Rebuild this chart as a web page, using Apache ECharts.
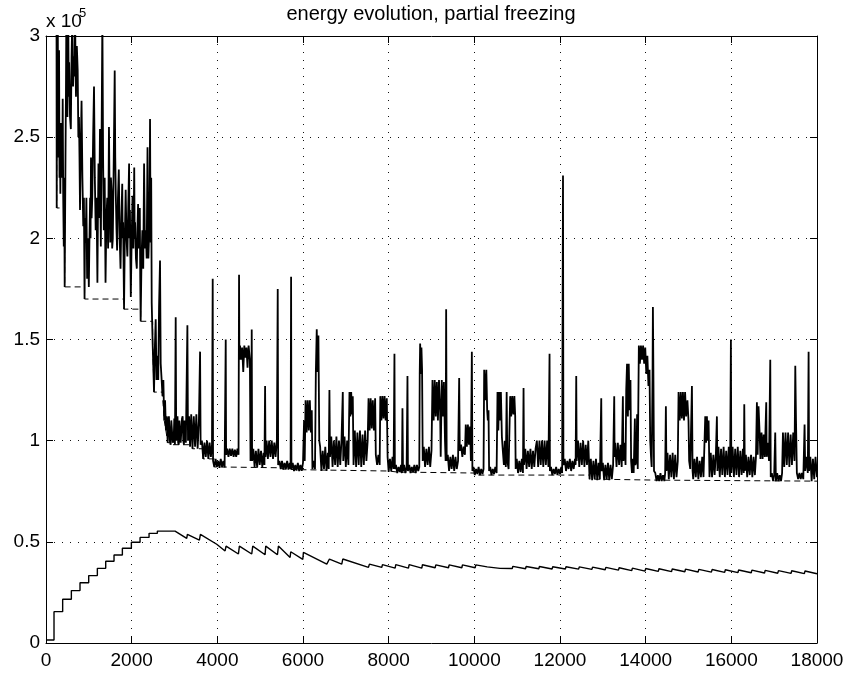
<!DOCTYPE html>
<html>
<head>
<meta charset="utf-8">
<title>energy evolution, partial freezing</title>
<script src="https://cdn.jsdelivr.net/npm/echarts@6/dist/echarts.min.js"></script>
<style>
  html, body { margin: 0; padding: 0; background: #fff; }
  #chart { width: 848px; height: 673px; }
</style>
</head>
<body>
<div id="chart"></div>
<script>
// Energy per iteration, in units of 1e5 (x = iteration, y = energy / 1e5)
const energyTrace = [
  [0,3.2],[245,3.2],[250,2.15],[258,2.9],[266,2.45],[275,3.1],[285,2.4],[295,2.6],[305,2.93],[315,2.3],
  [325,2.5],[335,2.22],[345,2.57],[355,2.35],[365,2.5],[378,2.3],[390,2.69],[402,2.2],[415,1.96],[425,2.3],
  [436,1.76],[446,2.1],[455,2.4],[465,2.7],[475,3.1],[487,2.65],[500,2.6],[510,2.9],[520,3.1],[530,2.7],
  [540,2.87],[560,2.6],[580,2.54],[597,2.9],[615,3.1],[632,2.75],[650,2.9],[665,2.8],[680,3.1],[690,2.85],
  [700,2.70],[720,2.95],[740,2.83],[755,2.5],[770,2.6],[782,2.4],[794,2.14],[812,2.45],[830,2.68],[850,2.3],
  [870,2.06],[885,2.2],[900,1.70],[913,2.1],[926,1.98],[943,2.2],[960,1.8],[980,2.0],[1000,1.76],[1015,2.0],
  [1030,2.2],[1040,2.0],[1050,2.4],[1065,2.1],[1080,2.2],[1100,2.5],[1121,2.75],[1140,2.3],[1160,2.04],[1180,2.2],
  [1200,1.78],[1212,2.1],[1225,2.37],[1242,2.1],[1260,2.54],[1270,2.2],[1280,1.96],[1298,2.5],[1316,3.1],[1333,2.4],
  [1350,2.04],[1370,2.3],[1390,1.78],[1410,2.1],[1430,2.2],[1450,1.95],[1470,2.55],[1485,2.2],[1500,1.98],[1515,2.3],
  [1530,2.24],[1545,1.95],[1560,2.0],[1582,2.4],[1604,2.83],[1617,2.4],[1630,2.21],[1645,2.05],[1660,1.94],[1680,2.2],
  [1700,2.34],[1720,2.0],[1740,1.85],[1760,2.1],[1780,2.27],[1790,2.0],[1800,2.08],[1810,1.9],[1822,1.65],[1840,2.0],
  [1860,2.24],[1880,2.0],[1900,1.91],[1920,2.15],[1940,2.37],[1950,2.0],[1960,2.14],[1970,1.9],[1980,1.71],[2000,2.0],
  [2020,2.21],[2040,1.95],[2060,2.35],[2070,2.0],[2080,2.08],[2100,1.9],[2120,1.85],[2135,2.05],[2150,2.17],[2170,1.95],
  [2190,2.15],[2200,1.8],[2210,1.59],[2230,1.9],[2250,2.04],[2270,1.85],[2290,2.37],[2310,1.95],[2330,2.04],[2350,1.9],
  [2370,2.45],[2390,1.9],[2410,2.04],[2420,2.2],[2429,2.59],[2437,2.2],[2445,1.98],[2456,2.3],[2468,1.68],[2490,1.48],
  [2522,1.24],[2540,1.45],[2561,1.6],[2580,1.3],[2600,1.42],[2620,1.3],[2639,1.66],[2662,1.89],[2678,1.38],[2700,1.3],
  [2720,1.22],[2740,1.3],[2760,1.10],[2780,1.2],[2800,1.05],[2820,1.12],[2840,0.99],[2855,1.1],[2870,1.12],[2890,1.0],
  [2910,0.98],[2925,1.1],[2940,1.1],[2960,0.99],[2980,1.0],[2995,1.11],[3010,0.98],[3028,1.61],[3040,1.0],[3055,1.1],
  [3070,1.12],[3085,0.99],[3100,0.98],[3115,1.1],[3130,1.1],[3145,0.99],[3160,0.99],[3175,1.11],[3190,1.12],[3205,1.0],
  [3220,0.98],[3235,1.1],[3250,1.08],[3265,0.99],[3280,0.99],[3301,1.57],[3315,1.0],[3340,1.12],[3363,0.97],[3390,1.13],
  [3420,0.96],[3450,1.12],[3480,0.97],[3510,1.13],[3540,0.96],[3570,1.1],[3597,1.44],[3610,0.98],[3640,1.0],[3670,0.91],
  [3700,0.99],[3730,0.92],[3760,1.0],[3790,0.91],[3820,0.99],[3850,0.92],[3875,0.98],[3892,1.80],[3900,0.9],[3930,0.87],
  [3960,0.91],[3990,0.87],[4020,0.9],[4050,0.866],[4080,0.91],[4110,0.87],[4140,0.9],[4170,0.868],[4196,1.50],[4205,0.93],
  [4230,0.96],[4260,0.92],[4290,0.96],[4320,0.925],[4350,0.96],[4380,0.92],[4410,0.955],[4440,0.92],[4470,0.96],[4495,0.93],
  [4507,1.82],[4515,1.4],[4530,1.47],[4555,1.40],[4580,1.46],[4605,1.34],[4630,1.47],[4655,1.41],[4680,1.46],[4705,1.36],
  [4730,1.47],[4760,1.40],[4775,0.9],[4790,0.93],[4803,1.55],[4812,0.9],[4840,0.96],[4870,0.87],[4900,0.95],[4930,0.866],
  [4960,0.96],[4990,0.88],[5020,0.95],[5050,0.87],[5080,0.94],[5100,0.88],[5115,1.27],[5125,0.92],[5150,1.0],[5180,0.91],
  [5210,1.0],[5240,0.92],[5270,1.0],[5300,0.91],[5330,0.99],[5360,0.92],[5390,1.0],[5410,1.75],[5420,0.88],[5450,0.9],
  [5480,0.86],[5510,0.9],[5540,0.857],[5570,0.89],[5600,0.86],[5630,0.9],[5660,0.857],[5690,0.89],[5710,0.86],[5722,1.81],
  [5730,0.86],[5760,0.89],[5790,0.85],[5820,0.88],[5850,0.852],[5880,0.89],[5910,0.85],[5940,0.88],[5970,0.851],[6000,0.89],
  [6025,1.1],[6040,0.9],[6060,1.2],[6085,1.04],[6110,1.2],[6135,1.05],[6160,1.2],[6185,1.04],[6205,1.15],[6220,0.86],
  [6250,0.9],[6280,0.86],[6300,1.34],[6321,1.55],[6340,1.34],[6360,1.52],[6380,1.0],[6400,0.97],[6430,0.85],[6460,0.95],
  [6490,0.86],[6520,0.97],[6550,0.85],[6580,0.94],[6600,0.86],[6617,1.25],[6630,0.92],[6660,1.02],[6690,0.87],[6720,1.0],
  [6750,0.88],[6780,1.02],[6810,0.87],[6840,1.0],[6870,0.88],[6900,1.01],[6929,1.24],[6940,0.9],[6970,1.02],[7000,0.87],
  [7030,1.0],[7060,0.88],[7085,1.24],[7105,1.12],[7125,1.24],[7145,1.13],[7162,1.22],[7180,0.88],[7210,1.05],[7240,0.87],
  [7270,1.04],[7300,0.88],[7330,1.05],[7360,0.87],[7390,1.03],[7420,0.88],[7450,1.05],[7480,0.9],[7510,1.0],[7530,1.21],
  [7555,1.05],[7580,1.21],[7605,1.06],[7630,1.2],[7655,1.05],[7684,1.21],[7700,0.93],[7730,0.88],[7760,0.93],[7790,0.88],
  [7805,1.22],[7830,1.1],[7855,1.22],[7880,1.11],[7905,1.22],[7930,1.1],[7956,1.21],[7975,0.92],[8000,0.845],[8030,0.91],
  [8060,0.85],[8090,0.92],[8115,0.86],[8135,1.43],[8145,0.86],[8170,0.88],[8200,0.84],[8230,0.87],[8260,0.845],[8290,0.88],
  [8310,0.84],[8322,1.16],[8335,0.85],[8360,0.88],[8390,0.84],[8420,0.87],[8439,1.32],[8450,0.85],[8480,0.88],[8510,0.84],
  [8540,0.87],[8570,0.845],[8600,0.88],[8630,0.84],[8660,0.88],[8690,0.85],[8715,0.87],[8725,1.33],[8735,1.48],[8750,1.33],
  [8765,1.46],[8780,1.35],[8795,0.9],[8820,0.97],[8850,0.87],[8880,0.96],[8910,0.88],[8940,0.97],[8970,0.87],[9000,0.95],
  [9023,1.30],[9050,1.1],[9075,1.30],[9100,1.12],[9125,1.29],[9150,1.1],[9175,1.30],[9202,1.14],[9215,0.92],[9240,1.30],
  [9265,1.12],[9290,1.29],[9315,1.0],[9330,0.9],[9342,1.65],[9355,0.9],[9380,0.93],[9410,0.85],[9440,0.92],[9470,0.86],
  [9500,0.93],[9530,0.85],[9560,0.92],[9590,0.86],[9620,0.9],[9646,1.31],[9660,0.95],[9690,0.98],[9720,0.92],[9750,0.97],
  [9780,0.93],[9800,1.08],[9825,0.97],[9850,1.08],[9875,0.98],[9900,1.07],[9920,0.9],[9942,1.44],[9955,0.85],[9980,0.87],
  [10010,0.83],[10040,0.86],[10070,0.835],[10100,0.87],[10130,0.83],[10160,0.86],[10190,0.835],[10215,0.86],[10230,1.35],[10255,1.20],
  [10280,1.35],[10300,1.15],[10315,1.10],[10331,1.15],[10345,0.85],[10370,0.87],[10400,0.83],[10430,0.86],[10460,0.835],[10490,0.87],
  [10520,0.84],[10541,1.24],[10560,1.05],[10580,1.24],[10600,1.1],[10620,1.24],[10643,1.02],[10665,0.95],[10690,0.88],[10710,1.0],
  [10735,0.87],[10755,1.24],[10770,0.9],[10800,0.86],[10837,1.22],[10860,1.12],[10885,1.22],[10910,1.13],[10935,1.22],[10954,1.12],
  [10965,0.86],[10990,0.91],[11020,0.84],[11050,0.9],[11080,0.845],[11110,0.91],[11135,0.84],[11149,1.26],[11160,0.88],[11190,0.96],
  [11220,0.86],[11250,0.95],[11280,0.87],[11310,0.96],[11340,0.86],[11370,0.95],[11400,0.87],[11430,0.96],[11460,1.0],[11490,0.87],
  [11520,1.0],[11550,0.88],[11580,1.0],[11610,0.87],[11640,1.0],[11670,0.88],[11700,1.0],[11730,0.87],[11756,1.43],[11765,0.85],
  [11790,0.87],[11820,0.83],[11850,0.86],[11880,0.835],[11910,0.87],[11940,0.83],[11970,0.86],[12000,0.835],[12030,0.87],[12050,0.84],
  [12070,2.31],[12080,0.88],[12110,0.91],[12140,0.85],[12170,0.9],[12200,0.86],[12230,0.91],[12260,0.85],[12290,0.9],[12320,0.86],
  [12350,0.91],[12365,0.88],[12379,1.32],[12390,0.9],[12420,1.0],[12450,0.87],[12480,0.99],[12510,0.88],[12540,1.0],[12570,0.87],
  [12600,0.98],[12630,0.88],[12660,1.0],[12690,0.81],[12720,0.91],[12750,0.805],[12780,0.9],[12810,0.81],[12840,0.91],[12870,0.805],
  [12900,0.89],[12930,0.81],[12963,1.21],[12975,0.85],[13000,0.89],[13030,0.805],[13060,0.88],[13090,0.81],[13120,0.89],[13150,0.805],
  [13180,0.88],[13210,0.81],[13240,0.88],[13266,1.22],[13275,0.92],[13290,0.99],[13320,0.87],[13350,0.99],[13380,0.88],[13410,0.98],
  [13440,0.87],[13468,1.22],[13480,0.9],[13510,0.99],[13530,0.88],[13546,1.25],[13565,1.38],[13585,1.12],[13605,1.38],[13625,1.15],
  [13645,1.3],[13660,0.9],[13680,0.84],[13700,0.91],[13720,0.84],[13748,1.11],[13760,0.88],[13785,0.9],[13800,1.13],[13815,0.86],
  [13841,1.47],[13865,1.38],[13890,1.47],[13915,1.40],[13940,1.47],[13965,1.38],[13990,1.46],[14015,1.33],[14040,1.42],[14065,1.27],
  [14090,1.35],[14106,1.0],[14125,0.92],[14140,0.87],[14160,1.3],[14169,1.66],[14180,1.35],[14195,0.85],[14225,0.84],[14255,0.80],
  [14285,0.83],[14315,0.80],[14345,0.84],[14375,0.80],[14405,0.83],[14435,0.80],[14455,0.84],[14472,1.17],[14485,0.85],[14510,0.94],
  [14540,0.81],[14570,0.93],[14600,0.82],[14630,0.94],[14660,0.81],[14690,0.93],[14720,0.82],[14750,0.9],[14768,1.24],[14795,1.1],
  [14820,1.24],[14845,1.11],[14870,1.24],[14895,1.10],[14920,1.24],[14945,1.12],[14975,1.2],[15000,1.1],[15015,0.9],[15040,0.86],
  [15080,1.27],[15095,0.85],[15110,0.81],[15140,0.91],[15170,0.82],[15200,0.92],[15230,0.81],[15260,0.9],[15290,0.82],[15320,0.92],
  [15350,0.82],[15391,1.12],[15410,0.99],[15430,1.12],[15450,1.0],[15469,1.1],[15490,0.82],[15520,0.94],[15550,0.82],[15580,0.93],
  [15610,0.83],[15640,0.94],[15663,1.12],[15675,0.85],[15700,0.97],[15730,0.82],[15760,0.96],[15790,0.83],[15820,0.97],[15850,0.82],
  [15880,0.95],[15910,0.83],[15940,0.97],[15970,0.82],[15990,1.50],[16000,0.84],[16030,0.97],[16060,0.82],[16090,0.96],[16120,0.83],
  [16150,0.97],[16180,0.82],[16210,0.95],[16240,0.83],[16270,0.96],[16290,0.84],[16302,1.18],[16315,0.85],[16340,0.93],[16370,0.82],
  [16400,0.92],[16430,0.83],[16460,0.93],[16490,0.82],[16520,0.92],[16550,0.83],[16575,0.92],[16597,1.19],[16615,0.93],[16635,1.17],
  [16660,1.04],[16680,0.91],[16705,1.04],[16730,0.91],[16755,1.03],[16780,0.92],[16815,1.19],[16825,0.92],[16850,0.99],[16880,0.9],
  [16909,1.40],[16920,0.82],[16945,0.84],[16975,0.80],[17000,0.83],[17025,1.04],[17040,0.80],[17070,0.84],[17100,0.80],[17130,0.83],
  [17160,0.80],[17185,0.84],[17205,1.04],[17235,0.87],[17265,1.04],[17295,0.88],[17325,1.04],[17355,0.87],[17385,1.03],[17415,0.88],
  [17445,1.04],[17475,0.9],[17493,1.37],[17510,1.1],[17530,0.84],[17560,0.81],[17590,0.84],[17620,0.81],[17650,0.84],[17680,0.81],
  [17710,1.08],[17725,0.85],[17760,0.92],[17785,0.84],[17804,1.44],[17815,0.85],[17845,0.92],[17875,0.80],[17905,0.91],[17935,0.81],
  [17965,0.92],[18000,0.82]
];

// Lowest energy found so far (held until the next improvement)
const bestEnergy = [
  [0,3.2],[250,2.15],[436,1.76],[900,1.70],[1822,1.65],[2210,1.59],[2490,1.48],[2522,1.24],[2720,1.22],
  [2760,1.10],[2800,1.05],[2840,0.99],[2910,0.98],[3420,0.96],[3670,0.91],[3930,0.87],[4050,0.866],
  [5480,0.86],[5540,0.857],[5790,0.85],[8000,0.845],[8200,0.84],[10010,0.83],[12690,0.81],[12750,0.805],
  [14255,0.80],[18000,0.80]
];

// Lower trace: stepped rise, then sawtooth decay with periodic jumps
const lowerTrace = [
  [0,0.015],[187,0.015],[187,0.155],[389,0.155],[389,0.216],[592,0.216],[592,0.259],[794,0.259],[794,0.298],
  [997,0.298],[997,0.333],[1199,0.333],[1199,0.369],[1394,0.369],[1394,0.404],[1588,0.404],[1588,0.435],
  [1783,0.435],[1783,0.468],[1993,0.468],[1993,0.498],[2196,0.498],[2196,0.522],[2406,0.522],[2406,0.542],
  [2600,0.542],[2600,0.553],[3013,0.553],
  [3285,0.517],[3301,0.537],[3581,0.509],[3605,0.537],[3986,0.488],[4181,0.455],[4204,0.479],[4492,0.440],
  [4515,0.479],[4803,0.440],[4827,0.479],[5115,0.436],[5130,0.479],[5403,0.436],[5426,0.479],[5699,0.423],
  [5714,0.451],[5995,0.413],[6010,0.448],[6555,0.390],[6617,0.415],[6905,0.390],[6929,0.415],[7528,0.374],
  [7551,0.390],[7840,0.374],[7855,0.387],[8151,0.370],[8166,0.387],[8462,0.370],[8478,0.387],[8774,0.370],
  [8789,0.387],[9085,0.372],[9101,0.386],[9397,0.372],[9412,0.386],[9708,0.372],[9723,0.386],[10019,0.372],
  [10034,0.386],[10300,0.376],[10600,0.369],
  [10885,0.368],[10900,0.379],[11195,0.367],[11210,0.378],[11505,0.367],[11520,0.378],[11815,0.366],[11830,0.377],
  [12125,0.366],[12140,0.377],[12435,0.365],[12450,0.376],[12745,0.364],[12760,0.375],[13055,0.362],[13070,0.374],
  [13365,0.360],[13380,0.372],[13675,0.358],[13690,0.370],[13985,0.355],[14000,0.368],[14295,0.354],[14310,0.367],
  [14605,0.353],[14620,0.366],[14915,0.352],[14930,0.365],[15225,0.351],[15240,0.364],[15535,0.350],[15550,0.363],
  [15845,0.349],[15860,0.362],[16155,0.348],[16170,0.361],[16465,0.347],[16480,0.360],[16775,0.346],[16790,0.359],
  [17085,0.345],[17100,0.358],[17395,0.344],[17410,0.357],[17705,0.343],[17720,0.356],[18000,0.342]
];

const titleText = 'energy evolution, partial freezing';
const xRange = { min: 0, max: 18000, step: 2000 };
const yRange = { min: 0, max: 3, step: 0.5 };
const scaleBase = 'x 10';
const scaleExp = '5';

const FONT = '"Liberation Sans", Arial, Helvetica, sans-serif';
const GRID = { left: 46, right: 31, top: 36, bottom: 30 };

const chart = echarts.init(document.getElementById('chart'), null, { renderer: 'canvas' });

const dotted = { show: true, lineStyle: { color: '#111', width: 1, type: [1, 7] } };
const axisLine = { show: true, onZero: false, lineStyle: { color: '#000', width: 1 } };
const ticks = { show: true, inside: true, length: 7, lineStyle: { color: '#000', width: 1 } };
const labels = { color: '#000', fontSize: 19, fontFamily: FONT };
const plainNumber = (v) => String(v);

const option = {
  animation: false,
  backgroundColor: '#fff',
  grid: { left: GRID.left, right: GRID.right, top: GRID.top, bottom: GRID.bottom, containLabel: false },
  xAxis: [
    { type: 'value', position: 'bottom', min: xRange.min, max: xRange.max, interval: xRange.step,
      axisLine, axisTick: ticks, axisLabel: Object.assign({ margin: 8, formatter: plainNumber }, labels),
      splitLine: dotted },
    { type: 'value', position: 'top', min: xRange.min, max: xRange.max, interval: xRange.step,
      axisLine, axisTick: ticks, axisLabel: { show: false }, splitLine: { show: false } }
  ],
  yAxis: [
    { type: 'value', position: 'left', min: yRange.min, max: yRange.max, interval: yRange.step,
      axisLine, axisTick: ticks, axisLabel: Object.assign({ margin: 6, formatter: plainNumber }, labels),
      splitLine: dotted },
    { type: 'value', position: 'right', min: yRange.min, max: yRange.max, interval: yRange.step,
      axisLine, axisTick: ticks, axisLabel: { show: false }, splitLine: { show: false } }
  ],
  graphic: [
    { type: 'text', x: 431, y: 14, silent: true,
      style: { text: titleText, font: '20px ' + FONT, fill: '#000', textAlign: 'center', textVerticalAlign: 'middle' } },
    { type: 'text', x: 46, y: 22, silent: true,
      style: { text: scaleBase, font: '19px ' + FONT, fill: '#000', textAlign: 'left', textVerticalAlign: 'middle' } },
    { type: 'text', x: 79, y: 13, silent: true,
      style: { text: scaleExp, font: '13px ' + FONT, fill: '#000', textAlign: 'left', textVerticalAlign: 'middle' } }
  ],
  series: [
    { type: 'line', data: bestEnergy, step: 'end', showSymbol: false, symbol: 'none', clip: true,
      lineStyle: { color: '#000', width: 1, type: [6, 4] }, z: 2 },
    { type: 'line', data: energyTrace, showSymbol: false, symbol: 'none', clip: true,
      lineStyle: { color: '#000', width: 1.8 }, z: 3 },
    { type: 'line', data: lowerTrace, showSymbol: false, symbol: 'none', clip: true,
      lineStyle: { color: '#000', width: 1.4 }, z: 3 }
  ]
};

chart.setOption(option);
</script>
</body>
</html>
